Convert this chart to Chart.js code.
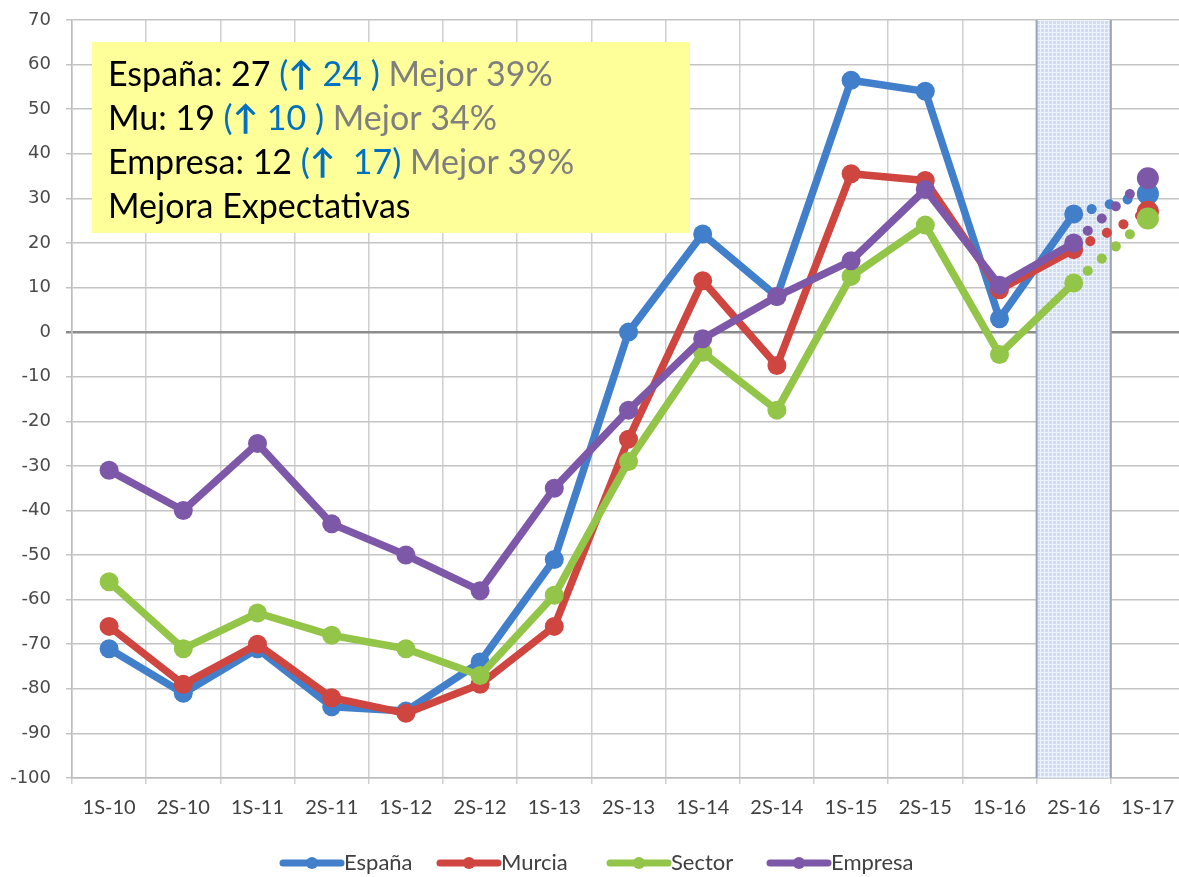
<!DOCTYPE html>
<html>
<head>
<meta charset="utf-8">
<script src="https://cdn.jsdelivr.net/npm/chart.js@4.4.0/dist/chart.umd.min.js"></script>
<style>
  html, body { margin: 0; padding: 0; background: #ffffff; overflow: hidden; }
  #wrap { width: 1196px; height: 877px; }
</style>
</head>
<body>
<div id="wrap"><canvas id="chart" width="1196" height="877"></canvas></div>
<script>
// Periods (half-years), last one is the forecast
const periods = ['1S-10', '2S-10', '1S-11', '2S-11', '1S-12', '2S-12', '1S-13', '2S-13',
                 '1S-14', '2S-14', '1S-15', '2S-15', '1S-16', '2S-16', '1S-17'];

// Series values
const espana  = [-71, -81, -71, -84, -85, -74, -51, 0, 22, 8, 56.5, 54, 3, 26.5, 31];
const murcia  = [-66, -79, -70, -82, -85.5, -79, -66, -24, 11.5, -7.5, 35.5, 34, 9.5, 18.5, 27];
const sector  = [-56, -71, -63, -68, -71, -77, -59, -29, -4.5, -17.5, 12.5, 24, -5, 11, 25.5];
const empresa = [-31, -40, -25, -43, -50, -58, -35, -17.5, -1.5, 8, 16, 32, 10.5, 20, 34.5];

const seriesNames = ['España', 'Murcia', 'Sector', 'Empresa'];
const seriesColors = ['#427fcb', '#cf4540', '#93c548', '#7e58a8'];

// Highlighted period and forecast period
const highlightPeriod = '2S-16';
const forecastIndex = 14;

// Text box lines: [text, colour, bold] parts
const boxLines = [
    [['España: 27 ', '#000'], ['(', '#0070c0'], ['\u2191', '#0070c0', true], [' 24 )', '#0070c0'], [' Mejor 39%', '#7f7f7f']],
    [['Mu: 19 ', '#000'], ['(', '#0070c0'], ['\u2191', '#0070c0', true], [' 10 )', '#0070c0'], [' Mejor 34%', '#7f7f7f']],
    [['Empresa: 12 ', '#000'], ['(', '#0070c0'], ['\u2191', '#0070c0', true], ['  17)', '#0070c0'], [' Mejor 39%', '#7f7f7f']],
    [['Mejora Expectativas', '#000']]
];

/**
 * Build a line dataset, dotted on the forecast segment
 */
function makeDataset(name, values, color, order) {
    return {
        label: name,
        data: values,
        borderColor: color,
        backgroundColor: color,
        borderWidth: 7.5,
        borderCapStyle: 'round',
        borderJoinStyle: 'round',
        pointRadius: values.map((v, i) => i === forecastIndex ? 11 : 9.5),
        pointHoverRadius: 10,
        pointBorderWidth: 0,
        tension: 0,
        order: order,
        segment: {
            borderDash: ctx => ctx.p1DataIndex === forecastIndex ? [0.1, 18.5] : undefined,
            borderWidth: ctx => ctx.p1DataIndex === forecastIndex ? 10 : undefined
        }
    };
}

// Shaded forecast band behind the lines
const bandPlugin = {
    id: 'band',
    beforeDatasetsDraw(chart) {
        const ctx = chart.ctx;
        const x = chart.scales.x;
        const area = chart.chartArea;
        const i = periods.indexOf(highlightPeriod);
        const half = (x.getPixelForValue(1) - x.getPixelForValue(0)) / 2;
        const left = x.getPixelForValue(i) - half;
        const right = x.getPixelForValue(i) + half;

        const pc = document.createElement('canvas');
        pc.width = 4; pc.height = 4;
        const p = pc.getContext('2d');
        p.fillStyle = '#cfdcf1';
        p.fillRect(0, 0, 4, 4);
        p.fillStyle = '#eef3fb';
        p.fillRect(0, 0, 4, 1);
        p.fillRect(0, 0, 1, 4);

        ctx.save();
        ctx.fillStyle = ctx.createPattern(pc, 'repeat');
        ctx.fillRect(left, area.top, right - left, area.bottom - area.top);
        ctx.strokeStyle = '#9aa6b8';
        ctx.lineWidth = 2;
        ctx.beginPath();
        ctx.moveTo(left, area.top); ctx.lineTo(left, area.bottom);
        ctx.moveTo(right, area.top); ctx.lineTo(right, area.bottom);
        ctx.stroke();
        ctx.restore();
    }
};

// Yellow text box and bottom legend
const overlayPlugin = {
    id: 'overlay',
    afterDraw(chart) {
        const ctx = chart.ctx;
        ctx.save();

        // text box
        ctx.fillStyle = '#ffff99';
        ctx.fillRect(92, 42, 598, 191);
        ctx.textBaseline = 'middle';
        boxLines.forEach((parts, row) => {
            let tx = 108;
            const ty = 75 + row * 44;
            parts.forEach(part => {
                ctx.font = (part[2] ? 'bold ' : '') + '34px Lato, "Noto Sans", sans-serif';
                ctx.fillStyle = part[1];
                ctx.fillText(part[0], tx, ty);
                tx += ctx.measureText(part[0]).width;
            });
        });

        // legend
        const starts = [283, 440, 610, 770];
        ctx.font = '22px Lato, sans-serif';
        seriesNames.forEach((name, i) => {
            const lx = starts[i];
            const ly = 863;
            ctx.strokeStyle = seriesColors[i];
            ctx.lineWidth = 7;
            ctx.lineCap = 'round';
            ctx.beginPath();
            ctx.moveTo(lx, ly); ctx.lineTo(lx + 58, ly);
            ctx.stroke();
            ctx.fillStyle = seriesColors[i];
            ctx.beginPath();
            ctx.arc(lx + 29, ly, 6, 0, Math.PI * 2);
            ctx.fill();
            ctx.fillStyle = '#404040';
            ctx.fillText(name, lx + 61, ly);
        });
        ctx.restore();
    }
};

new Chart(document.getElementById('chart').getContext('2d'), {
    type: 'line',
    data: {
        labels: periods,
        datasets: [
            makeDataset(seriesNames[0], espana, seriesColors[0], 3),
            makeDataset(seriesNames[1], murcia, seriesColors[1], 2),
            makeDataset(seriesNames[2], sector, seriesColors[2], 1),
            makeDataset(seriesNames[3], empresa, seriesColors[3], 0)
        ]
    },
    options: {
        responsive: false,
        animation: false,
        layout: {
            padding: { top: 20, bottom: 49, left: 0, right: 0 }
        },
        scales: {
            x: {
                offset: true,
                grid: {
                    offset: true,
                    color: '#cfcfcf',
                    lineWidth: 1.5,
                    tickLength: 6
                },
                border: { color: '#bdbdbd', width: 1.5 },
                ticks: {
                    color: '#404040',
                    padding: 12,
                    maxRotation: 0,
                    font: { family: 'Lato, sans-serif', size: 20 }
                },
                afterFit(scale) { scale.height = 50; }
            },
            y: {
                min: -100,
                max: 70,
                ticks: {
                    stepSize: 10,
                    color: '#4a4a4a',
                    padding: 15,
                    font: { family: '"DejaVu Sans", Verdana, sans-serif', size: 18 }
                },
                grid: {
                    color: ctx => ctx.tick && ctx.tick.value === 0 ? '#8c8c8c' : '#c4c4c4',
                    lineWidth: ctx => ctx.tick && ctx.tick.value === 0 ? 2.5 : 1.5,
                    tickLength: 6
                },
                border: { color: '#bdbdbd', width: 1.5 },
                afterFit(scale) {
                    scale.width = 72;
                    scale.paddingTop = 0;
                    scale.paddingBottom = 0;
                }
            }
        },
        plugins: {
            legend: { display: false },
            tooltip: { enabled: false }
        }
    },
    plugins: [bandPlugin, overlayPlugin]
});
</script>
</body>
</html>
